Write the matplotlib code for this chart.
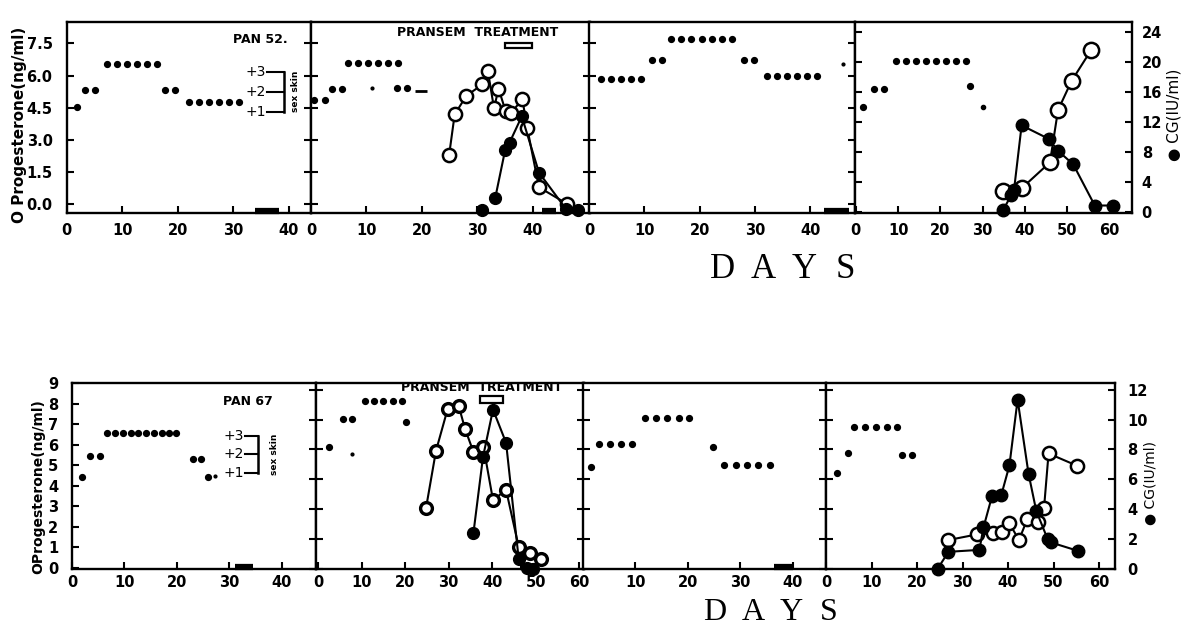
import matplotlib
matplotlib.use('Agg')
import matplotlib.pyplot as plt
from matplotlib.patches import Rectangle

# ---------------- DATA ----------------
# Top row (PAN 52) -- sex skin score dots
t1_ss_days = [1.8, 3.3, 5.1, 7.2, 9.0, 10.8, 12.6, 14.4, 16.2, 17.7, 19.5, 22.0, 23.8, 25.6, 27.4, 29.2, 31.0]
t1_ss_vals = [1.25, 2.1, 2.1, 3.4, 3.4, 3.4, 3.4, 3.4, 3.4, 2.1, 2.1, 1.5, 1.5, 1.5, 1.5, 1.5, 1.5]
t2_ss_days = [0.5, 2.5, 3.8, 5.6, 6.7, 8.5, 10.3, 12.1, 13.9, 15.7, 15.5, 17.3]
t2_ss_vals = [1.6, 1.6, 2.15, 2.15, 3.45, 3.45, 3.45, 3.45, 3.45, 3.45, 2.2, 2.2]
t2_ss_small_days = [11.0]
t2_ss_small_vals = [2.2]
t2_ss_dash_days = [19.9]
t2_ss_dash_vals = [2.05]
t3_ss_days = [2.2, 4.0, 5.8, 7.6, 9.4, 11.4, 13.2, 14.8, 16.6, 18.4, 20.4, 22.2, 24.0, 25.9,
              28.0, 29.8, 32.2, 34.0, 35.8, 37.6, 39.4, 41.2]
t3_ss_vals = [2.65, 2.65, 2.65, 2.65, 2.65, 3.6, 3.6, 4.65, 4.65, 4.65, 4.65, 4.65, 4.65, 4.65,
              3.6, 3.6, 2.8, 2.8, 2.8, 2.8, 2.8, 2.8]
t3_ss_small_days = [46.0]
t3_ss_small_vals = [3.4]
t4_ss_days = [1.6, 4.3, 6.7, 9.6, 11.9, 14.2, 16.5, 18.9, 21.3, 23.6, 26.0, 27.0]
t4_ss_vals = [1.25, 2.15, 2.15, 3.55, 3.55, 3.55, 3.55, 3.55, 3.55, 3.55, 3.55, 2.3]
t4_ss_small_days = [30.0]
t4_ss_small_vals = [1.25]

# Top row progesterone (open) and CG (filled)
t2_prog_days = [24.9, 25.9, 28.0, 30.9, 31.9, 33.0, 33.8, 35.1, 36.0, 38.1, 39.0, 41.1, 46.2]
t2_prog_vals = [2.30, 4.19, 5.06, 5.59, 6.20, 4.47, 5.40, 4.34, 4.24, 4.90, 3.54, 0.80, 0.02]
t2_cg_days = [30.8, 33.2, 35.0, 35.8, 38.0, 41.1, 45.9, 48.2]
t2_cg_vals = [0.3, 1.86, 8.3, 9.3, 12.8, 5.3, 0.5, 0.3]
t4_prog_days = [34.8, 39.2, 45.9, 47.8, 51.0, 55.7]
t4_prog_vals = [0.64, 0.75, 1.96, 4.39, 5.75, 7.21]
t4_cg_days = [34.8, 36.8, 37.4, 39.2, 45.6, 47.8, 51.4, 56.5, 60.7]
t4_cg_vals = [0.3, 2.3, 2.96, 11.6, 9.8, 8.2, 6.4, 0.9, 0.9]

# menstruation bars (start day, end day)
t_menses = [(34.0, 38.2), (41.6, 44.1), (42.5, 47.0), None]
t_treat = (35.0, 39.8)

# Bottom row (PAN 67)
b1_ss_days = [2.0, 3.4, 5.3, 6.7, 8.2, 9.7, 11.2, 12.6, 14.1, 15.6, 17.1, 18.5, 19.9, 23.0, 24.6, 26.0]
b1_ss_vals = [0.77, 1.92, 1.92, 3.14, 3.14, 3.14, 3.14, 3.14, 3.14, 3.14, 3.14, 3.14, 3.14, 1.76, 1.76, 0.8]
b1_ss_small_days = [27.2]
b1_ss_small_vals = [0.85]
b2_ss_days = [2.6, 5.7, 7.7, 10.8, 12.9, 15.0, 17.2, 19.2, 20.2]
b2_ss_vals = [2.42, 3.92, 3.92, 4.9, 4.9, 4.9, 4.9, 4.9, 3.77]
b2_ss_small_days = [7.7]
b2_ss_small_vals = [2.0]
b3_ss_days = [1.5, 3.1, 5.1, 7.2, 9.4, 11.8, 13.9, 16.1, 18.2, 20.2, 24.8, 26.9, 29.1, 31.3, 33.4, 35.6]
b3_ss_vals = [1.34, 2.55, 2.55, 2.55, 2.55, 3.96, 3.96, 3.96, 3.96, 3.96, 2.42, 1.43, 1.43, 1.43, 1.43, 1.43]
b4_ss_days = [2.4, 4.8, 6.2, 8.6, 11.0, 13.4, 15.6, 16.7, 18.9]
b4_ss_vals = [0.98, 2.06, 3.5, 3.5, 3.5, 3.5, 3.5, 1.97, 1.97]

b2_prog_days = [24.8, 27.1, 29.8, 32.3, 33.8, 35.7, 38.0, 40.2, 43.2, 46.1, 48.7, 51.2]
b2_prog_vals = [2.9, 5.7, 7.75, 7.9, 6.75, 5.65, 5.9, 3.3, 3.8, 1.03, 0.74, 0.44]
b2_cg_days = [35.7, 37.9, 40.2, 43.2, 46.1, 48.0, 49.4]
b2_cg_vals = [2.4, 7.5, 10.67, 8.45, 0.67, 0.05, 0.0]
b4_prog_days = [26.9, 33.1, 36.6, 38.6, 40.3, 42.4, 44.2, 46.5, 47.9, 48.9, 55.1]
b4_prog_vals = [1.36, 1.63, 1.68, 1.76, 2.17, 1.36, 2.36, 2.25, 2.9, 5.57, 4.98]
b4_cg_days = [24.5, 26.9, 33.7, 34.6, 36.5, 38.5, 40.3, 42.1, 44.5, 46.2, 48.7, 49.4, 55.3]
b4_cg_vals = [0.0, 1.15, 1.28, 2.78, 4.9, 4.93, 6.93, 11.33, 6.38, 3.89, 2.0, 1.78, 1.22]

b_menses = [(31.0, 34.5), (46.4, 50.3), (36.4, 40.0), None]
b_treat = (37.2, 42.5)

top_prog_ticks = [0, 1.5, 3.0, 4.5, 6.0, 7.5]
top_prog_labels = ['0.0', '1.5', '3.0', '4.5', '6.0', '7.5']
top_cg_ticks = [0, 4, 8, 12, 16, 20, 24]
bot_prog_ticks = [0, 1, 2, 3, 4, 5, 6, 7, 8, 9]
bot_cg_ticks = [0, 2, 4, 6, 8, 10, 12]

# ---------------- FIGURE ----------------
W, H = 1182, 629
fig = plt.figure(figsize=(W / 100, H / 100), dpi=100)
BOLD = dict(family='DejaVu Sans', weight='bold')
TICKFS = 10.5


def add_axes(x0, x1, ytop, ybot):
    return fig.add_axes([x0 / W, 1 - ybot / H, (x1 - x0) / W, (ybot - ytop) / H])


def make_panel(box, xlim, prog_lim, cg_lim, ss_lim):
    ax = add_axes(*box)
    ax.set_xlim(*xlim)
    ax.set_ylim(*prog_lim)
    cg = ax.twinx()
    cg.set_ylim(*cg_lim)
    ss = ax.twinx()
    ss.set_ylim(*ss_lim)
    for a in (cg, ss):
        for s in a.spines.values():
            s.set_visible(False)
        a.tick_params(axis='y', left=False, right=False, labelleft=False, labelright=False)
    for s in ax.spines.values():
        s.set_linewidth(1.7)
    ax.tick_params(axis='both', direction='in', length=5, width=1.5,
                   left=False, right=False, labelleft=False, labelright=False)
    ax.tick_params(axis='x', pad=5, labelsize=TICKFS)
    return ax, cg, ss


def set_xt(ax, ticks):
    ax.set_xticks(ticks)
    ax.set_xticklabels([str(t) for t in ticks], fontsize=TICKFS, fontweight='bold')


def yticks_both(a, ticks, labels=None, labelside=None, pad=4):
    a.set_yticks(ticks)
    a.tick_params(axis='y', direction='in', length=5, width=1.5, left=True, right=True,
                  labelleft=(labelside == 'left'), labelright=(labelside == 'right'), pad=pad)
    if labels is not None:
        a.set_yticklabels(labels)
    for lab in a.get_yticklabels():
        lab.set_fontweight('bold')
        lab.set_fontsize(TICKFS)


def dots(ss, d, v, ms=4.2):
    ss.plot(d, v, 'o', color='black', ms=ms, mec='black', lw=0, clip_on=False)


def menses(ax, span):
    if span is None:
        return
    ax.plot(span, [0.012, 0.012], transform=ax.get_xaxis_transform(), color='black',
            lw=4.5, solid_capstyle='butt', clip_on=False, zorder=5)


def open_line(a, d, v, ms=9.5, mew=1.8):
    a.plot(d, v, '-o', color='black', lw=1.5, ms=ms, mfc='white', mec='black', mew=mew,
           clip_on=False, zorder=4)


def filled_line(a, d, v, ms=8.5, markers_only_first=0):
    a.plot(d[markers_only_first:], v[markers_only_first:], '-', color='black', lw=1.5,
           clip_on=False, zorder=3)
    a.plot(d, v, 'o', color='black', ms=ms, clip_on=False, zorder=5)


# ---- Top row ----
TOP, BOT = 22, 213
top_boxes = [(66.5, 311, TOP, BOT), (311, 590, TOP, BOT), (589, 855, TOP, BOT), (855, 1132, TOP, BOT)]
top_xlims = [(0, 44.0), (0, 50.3), (0, 48.1), (-0.2, 65.3)]
top_prog_lim = (-0.4, 8.5)
top_cg_lim = (-0.1, 25.4)
top_ss_lim = (-4.05, 5.5)

tp = [make_panel(b, xl, top_prog_lim, top_cg_lim, top_ss_lim) for b, xl in zip(top_boxes, top_xlims)]

for i, (ax, cg, ss) in enumerate(tp):
    if i < 3:
        yticks_both(ax, top_prog_ticks, top_prog_labels if i == 0 else None,
                    labelside='left' if i == 0 else None, pad=10)
    else:
        yticks_both(cg, top_cg_ticks, None, labelside='right', pad=7)
set_xt(tp[0][0], [0, 10, 20, 30, 40])
set_xt(tp[1][0], [0, 10, 20, 30, 40])
set_xt(tp[2][0], [0, 10, 20, 30, 40])
set_xt(tp[3][0], [0, 10, 20, 30, 40, 50, 60])
for ax, _, _ in tp:
    ax.tick_params(axis='x', pad=7)

dots(tp[0][2], t1_ss_days, t1_ss_vals)
dots(tp[1][2], t2_ss_days, t2_ss_vals)
dots(tp[1][2], t2_ss_small_days, t2_ss_small_vals, ms=2)
tp[1][2].plot(t2_ss_dash_days, t2_ss_dash_vals, '_', color='black', ms=9, mew=2)
dots(tp[2][2], t3_ss_days, t3_ss_vals)
dots(tp[2][2], t3_ss_small_days, t3_ss_small_vals, ms=2)
dots(tp[3][2], t4_ss_days, t4_ss_vals)
dots(tp[3][2], t4_ss_small_days, t4_ss_small_vals, ms=3)

open_line(tp[1][0], t2_prog_days, t2_prog_vals)
filled_line(tp[1][1], t2_cg_days, t2_cg_vals, markers_only_first=1)
open_line(tp[3][0], t4_prog_days, t4_prog_vals, ms=11)
filled_line(tp[3][1], t4_cg_days, t4_cg_vals, ms=9)

for (ax, _, _), m in zip(tp, t_menses):
    menses(ax, m)

ax2 = tp[1][0]
ax2.add_patch(Rectangle((t_treat[0], 0.862), t_treat[1] - t_treat[0], 0.03,
                        transform=ax2.get_xaxis_transform(), fill=False, lw=1.6, ec='black',
                        clip_on=False))
ax2.text(30.0, 0.945, 'PRANSEM  TREATMENT', transform=ax2.get_xaxis_transform(),
         ha='center', va='center', fontsize=9, family='DejaVu Sans', weight='heavy')

ax1, _, ss1 = tp[0]
ax1.text(39.8, 0.91, 'PAN 52.', transform=ax1.get_xaxis_transform(), ha='right', va='center',
         fontsize=9, **BOLD)
for v in (3, 2, 1):
    ss1.text(35.9, v, '+' + str(v), ha='right', va='center', fontsize=10, family='DejaVu Sans')
    ss1.plot([36.0, 39.1], [v, v], color='black', lw=1.5)
ss1.plot([39.1, 39.1], [1, 3], color='black', lw=1.8)
ss1.text(41.3, 2.05, 'sex skin', rotation=90, ha='center', va='center', fontsize=6.5, **BOLD)

# ---- Bottom row ----
TOP2, BOT2 = 383, 569
bot_boxes = [(72, 316, TOP2, BOT2), (316, 584, TOP2, BOT2), (583, 826, TOP2, BOT2), (826, 1115, TOP2, BOT2)]
bot_xlims = [(0, 46.5), (-0.46, 61.1), (0, 46.3), (0, 63.5)]
bot_prog_lim = (-0.05, 9.0)
bot_cg_lim = (0.0, 12.45)
bot_ss_lim = (-4.19, 5.86)

bp = [make_panel(b, xl, bot_prog_lim, bot_cg_lim, bot_ss_lim) for b, xl in zip(bot_boxes, bot_xlims)]
yticks_both(bp[0][0], bot_prog_ticks, None, labelside='left', pad=10)
bp[0][0].tick_params(axis='y', right=False)
bp[0][1].set_yticks(bot_cg_ticks)
bp[0][1].tick_params(axis='y', direction='in', length=5, width=1.5, right=True, labelright=False)
for i in (1, 2, 3):
    yticks_both(bp[i][1], bot_cg_ticks, None, labelside='right' if i == 3 else None, pad=9)
set_xt(bp[0][0], [0, 10, 20, 30, 40])
set_xt(bp[1][0], [0, 10, 20, 30, 40, 50, 60])
set_xt(bp[2][0], [10, 20, 30, 40])
set_xt(bp[3][0], [0, 10, 20, 30, 40, 50, 60])
for ax, _, _ in bp:
    ax.tick_params(axis='x', pad=4)

dots(bp[0][2], b1_ss_days, b1_ss_vals)
dots(bp[0][2], b1_ss_small_days, b1_ss_small_vals, ms=2)
dots(bp[1][2], b2_ss_days, b2_ss_vals)
dots(bp[1][2], b2_ss_small_days, b2_ss_small_vals, ms=2)
dots(bp[2][2], b3_ss_days, b3_ss_vals)
dots(bp[3][2], b4_ss_days, b4_ss_vals)

open_line(bp[1][0], b2_prog_days, b2_prog_vals, ms=8.5, mew=2.4)
filled_line(bp[1][1], b2_cg_days, b2_cg_vals, ms=8.5)
open_line(bp[3][0], b4_prog_days, b4_prog_vals, ms=9.5, mew=1.8)
filled_line(bp[3][1], b4_cg_days, b4_cg_vals, ms=9)

for (ax, _, _), m in zip(bp, b_menses):
    menses(ax, m)

bax2 = bp[1][0]
bax2.add_patch(Rectangle((b_treat[0], 0.893), b_treat[1] - b_treat[0], 0.035,
                         transform=bax2.get_xaxis_transform(), fill=False, lw=1.6, ec='black',
                         clip_on=False))
bax2.text(37.5, 0.975, 'PRANSEM  TREATMENT', transform=bax2.get_xaxis_transform(),
          ha='center', va='center', fontsize=9, family='DejaVu Sans', weight='heavy')

bax1, _, bss1 = bp[0]
bax1.text(38.3, 0.898, 'PAN 67', transform=bax1.get_xaxis_transform(), ha='right', va='center',
          fontsize=9, **BOLD)
for v in (3, 2, 1):
    bss1.text(32.8, v, '+' + str(v), ha='right', va='center', fontsize=10, family='DejaVu Sans')
    bss1.plot([33.0, 35.4], [v, v], color='black', lw=1.5)
bss1.plot([35.4, 35.4], [1, 3], color='black', lw=1.8)
bss1.text(38.5, 2.0, 'sex skin', rotation=90, ha='center', va='center', fontsize=6.5, **BOLD)

# ---- axis titles ----
fig.text(20 / W, 1 - 125 / H, 'O Progesterone(ng/ml)', rotation=90, ha='center', va='center',
         fontsize=11, **BOLD)
fig.text(38 / W, 1 - 487 / H, 'OProgesterone(ng/ml)', rotation=90, ha='center', va='center',
         fontsize=10, **BOLD)
fig.text(1174 / W, 1 - 115 / H, '● CG(IU/ml)', rotation=90, ha='center', va='center',
         fontsize=11, family='DejaVu Sans')
fig.text(1150 / W, 1 - 483 / H, '● CG(IU/ml)', rotation=90, ha='center', va='center',
         fontsize=10, family='DejaVu Sans')


def spaced(text, xc, yc, step, size):
    n = len(text)
    for k, ch in enumerate(text):
        x = xc + (k - (n - 1) / 2) * step
        fig.text(x / W, 1 - yc / H, ch, ha='center', va='center', fontsize=size,
                 family='Liberation Serif')


spaced('DAYS', 784, 270, 41, 25)
spaced('DAYS', 772, 613, 38, 23)

fig.savefig('out.png', dpi=100)
